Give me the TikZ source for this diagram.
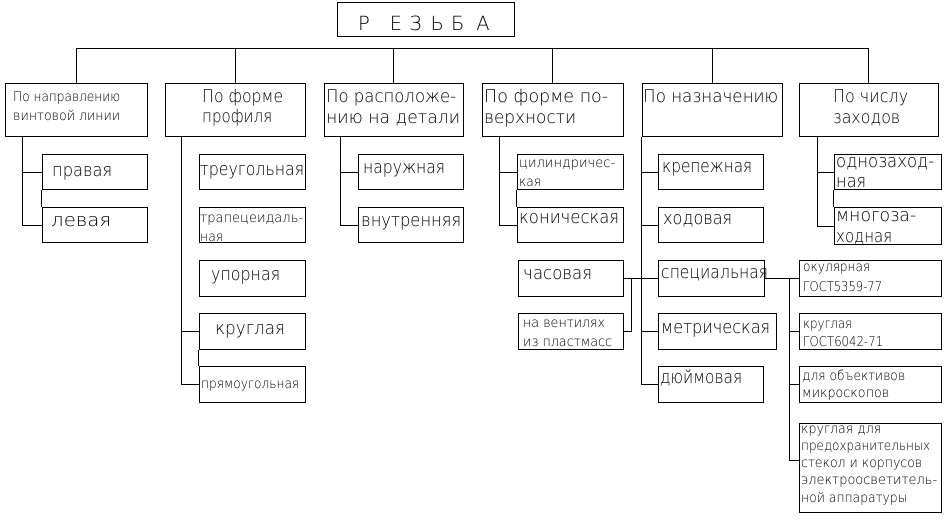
\documentclass[tikz,border=0pt]{standalone}
\usepackage{fontspec}
\setmainfont{DejaVu Sans}[UprightFont=* ExtraLight]
\usetikzlibrary{fit}
\newcommand\szL{\fontsize{17.5}{20}\selectfont}
\newcommand\szM{\fontsize{18}{20}\selectfont}
\newcommand\szS{\fontsize{13.5}{15}\selectfont}
\newcommand\szT{\fontsize{19.5}{22}\selectfont}
\newcommand\fw[2]{\resizebox{#1pt}{\height}{#2}}
\tikzset{
  box/.style={draw, line width=1pt, inner sep=0pt},
  txt/.style={inner sep=0pt, anchor=base west},
  wire/.style={line width=1pt},
}
\begin{document}
\begin{tikzpicture}[x=1pt,y=-1pt]
\useasboundingbox (0,0) rectangle (944,521);
% title
\node[box, fit={(337,3)(514,37)}] (title) {};
\node[txt, font=\szT] (tT) at (358,31) {Р\hspace{20pt}Е\hspace{7pt}З\hspace{9pt}Ь\hspace{7pt}Б\hspace{12pt}А};
% categories
\node[box, fit={(5,84)(147,137)}] (c1) {};
\node[box, fit={(165,84)(305,137)}] (c2) {};
\node[box, fit={(324,84)(463,137)}] (c3) {};
\node[box, fit={(482,84)(623,137)}] (c4) {};
\node[box, fit={(642,84)(782,137)}] (c5) {};
\node[box, fit={(799,84)(938,137)}] (c6) {};
\node[txt, font=\szS] (t1a) at (13,102) {\fw{107}{По направлению}};
\node[txt, font=\szS] (t1b) at (13,121) {\fw{107}{винтовой линии}};
\node[txt, font=\szL] (t2a) at (202,103) {\fw{81}{По форме}};
\node[txt, font=\szL] (t2b) at (202,123) {\fw{70}{профиля}};
\node[txt, font=\szL] (t3a) at (326,103) {\fw{130}{По расположе-}};
\node[txt, font=\szL] (t3b) at (326,124) {\fw{134}{нию на детали}};
\node[txt, font=\szL] (t4a) at (484,103) {\fw{124}{По форме по-}};
\node[txt, font=\szL] (t4b) at (484,124) {\fw{92}{верхности}};
\node[txt, font=\szL] (t5a) at (643,103) {\fw{135}{По назначению}};
\node[txt, font=\szL] (t6a) at (833,103) {\fw{75}{По числу}};
\node[txt, font=\szL] (t6b) at (833,124) {\fw{67}{заходов}};
% group 1
\node[box, fit={(42,155)(147,190)}] (s11) {};
\node[box, fit={(42,208)(147,243)}] (s12) {};
\node[txt, font=\szM] (u11) at (52,177) {\fw{60}{правая}};
\node[txt, font=\szM] (u12) at (51,227) {\fw{60}{левая}};
% group 2
\node[box, fit={(199,155)(305,190)}] (s21) {};
\node[box, fit={(199,208)(305,243)}] (s22) {};
\node[box, fit={(199,260)(305,296)}] (s23) {};
\node[box, fit={(199,313)(305,349)}] (s24) {};
\node[box, fit={(199,366)(305,402)}] (s25) {};
\node[txt, font=\szM] (u21) at (200,176) {\fw{104}{треугольная}};
\node[txt, font=\szS] (u22a) at (200,223) {\fw{103}{трапецеидаль-}};
\node[txt, font=\szS] (u22b) at (200,241) {\fw{23}{ная}};
\node[txt, font=\szM] (u23) at (211,280) {\fw{69}{упорная}};
\node[txt, font=\szM] (u24) at (215,334) {\fw{70}{круглая}};
\node[txt, font=\szS] (u25) at (201,388) {\fw{98}{прямоугольная}};
% group 3
\node[box, fit={(358,155)(463,190)}] (s31) {};
\node[box, fit={(358,208)(463,243)}] (s32) {};
\node[txt, font=\szM] (u31) at (363,174) {\fw{82}{наружная}};
\node[txt, font=\szM] (u32) at (361,227) {\fw{100}{внутренняя}};
% group 4
\node[box, fit={(517,155)(623,190)}] (s41) {};
\node[box, fit={(517,208)(623,243)}] (s42) {};
\node[box, fit={(518,260)(623,296)}] (s43) {};
\node[box, fit={(518,313)(623,349)}] (s44) {};
\node[txt, font=\szS] (u41a) at (519,168) {\fw{96}{цилиндричес-}};
\node[txt, font=\szS] (u41b) at (519,187) {\fw{22}{кая}};
\node[txt, font=\szM] (u42) at (519,224) {\fw{100}{коническая}};
\node[txt, font=\szM] (u43) at (523,279) {\fw{69}{часовая}};
\node[txt, font=\szS] (u44a) at (523,327) {\fw{82}{на вентилях}};
\node[txt, font=\szS] (u44b) at (523,346) {\fw{89}{из пластмасс}};
% group 5
\node[box, fit={(658,155)(763,190)}] (s51) {};
\node[box, fit={(658,208)(763,243)}] (s52) {};
\node[box, fit={(658,260)(764,296)}] (s53) {};
\node[box, fit={(658,313)(776,349)}] (s54) {};
\node[box, fit={(658,366)(763,402)}] (s55) {};
\node[txt, font=\szM] (u51) at (662,173) {\fw{90}{крепежная}};
\node[txt, font=\szM] (u52) at (663,225) {\fw{69}{ходовая}};
\node[txt, font=\szM] (u53) at (661,278) {\fw{107}{специальная}};
\node[txt, font=\szM] (u54) at (661,333) {\fw{109}{метрическая}};
\node[txt, font=\szM] (u55) at (660,383) {\fw{82}{дюймовая}};
% special threads
\node[box, fit={(799,260)(941,296)}] (r1) {};
\node[box, fit={(799,313)(941,349)}] (r2) {};
\node[box, fit={(799,366)(941,402)}] (r3) {};
\node[box, fit={(799,423)(941,512)}] (r4) {};
\node[txt, font=\szS] (v1a) at (803,272) {\fw{67}{окулярная}};
\node[txt, font=\szS] (v1b) at (803,291) {\fw{79}{ГОСТ5359-77}};
\node[txt, font=\szS] (v2a) at (803,328) {\fw{49}{круглая}};
\node[txt, font=\szS] (v2b) at (803,346) {\fw{80}{ГОСТ6042-71}};
\node[txt, font=\szS] (v3a) at (802,380) {\fw{103}{для объективов}};
\node[txt, font=\szS] (v3b) at (802,397) {\fw{87}{микроскопов}};
\node[txt, font=\szS] (v4a) at (801,433) {\fw{80}{круглая для}};
\node[txt, font=\szS] (v4b) at (801,450) {\fw{129}{предохранительных}};
\node[txt, font=\szS] (v4c) at (801,467) {\fw{121}{стекол и корпусов}};
\node[txt, font=\szS] (v4d) at (801,484) {\fw{136}{электроосветитель-}};
\node[txt, font=\szS] (v4e) at (801,502) {\fw{106}{ной аппаратуры}};
% group 6
\node[box, fit={(834,155)(941,190)}] (s61) {};
\node[box, fit={(834,208)(941,245)}] (s62) {};
\node[txt, font=\szM] (u61a) at (836,168) {\fw{98}{однозаход-}};
\node[txt, font=\szM] (u61b) at (836,188) {\fw{30}{ная}};
\node[txt, font=\szM] (u62a) at (836,222) {\fw{80}{многоза-}};
\node[txt, font=\szM] (u62b) at (836,243) {\fw{56}{ходная}};
% bus
\coordinate (bus) at (0,49);
\draw[wire] (c1.north) |- (c6.north |- bus) -- (c6.north);
\foreach \c in {c2,c3,c4,c5} \draw[wire] (\c.north) -- (\c.north |- bus);
% group 1 tree
\coordinate (k1) at ([xshift=18pt]c1.south west);
\draw[wire] (k1) |- (s12.west);
\draw[wire] (k1 |- s11.west) -- (s11.west);
\draw[wire] (s11.south west) -- (s12.north west);
% group 2 tree
\coordinate (k2) at ([xshift=17pt]c2.south west);
\draw[wire] (k2) |- (s25.west);
\draw[wire] (k2 |- s24.west) -- (s24.west);
\draw[wire] (s24.south west) -- (s25.north west);
% group 3 tree
\coordinate (k3) at ([xshift=17pt]c3.south west);
\draw[wire] (k3) |- (s32.west);
\draw[wire] (k3 |- s31.west) -- (s31.west);
% group 4 tree
\coordinate (k4) at ([xshift=18pt]c4.south west);
\draw[wire] (k4) |- (s42.west);
\draw[wire] (k4 |- s41.west) -- (s41.west);
\draw[wire] (s41.south west) -- (s42.north west);
% group 5 tree
\draw[wire] (c5.south west) |- (s55.west);
\foreach \s in {s51,s52,s54} \draw[wire] (c5.south west |- \s.west) -- (\s.west);
\draw[wire] (s43.east) -- (s53.west);
\coordinate (k5) at ([xshift=8pt]s43.east);
\draw[wire] (k5) |- (s44.east);
% special tree
\draw[wire] (s53.east) -- (r1.west);
\coordinate (k6) at ([xshift=-9pt]r1.west);
\draw[wire] (k6) |- ([yshift=7pt]r4.west);
\foreach \r in {r2,r3} \draw[wire] (k6 |- \r.west) -- (\r.west);
% group 6 tree
\coordinate (k7) at ([xshift=19pt]c6.south west);
\draw[wire] (k7) |- (s62.west);
\draw[wire] (k7 |- s61.west) -- (s61.west);
\draw[wire] (s61.south west) -- (s62.north west);
\end{tikzpicture}
\end{document}
